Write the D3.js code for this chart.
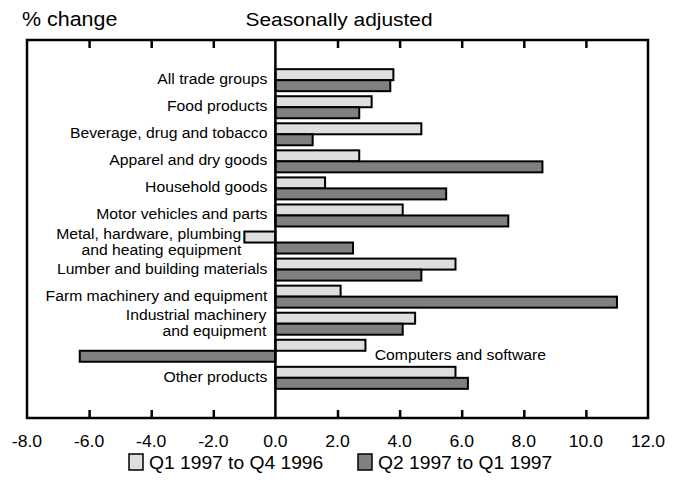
<!DOCTYPE html>
<html><head><meta charset="utf-8">
<script src="https://cdn.jsdelivr.net/npm/d3@7"></script>
<style>
body{margin:0;background:#fff;}
text{font-family:"Liberation Sans",Arial,Helvetica,sans-serif;fill:#000;}
</style></head>
<body><svg id="c" width="682" height="493"></svg>
<script>
const categories = [
  ["All trade groups"],
  ["Food products"],
  ["Beverage, drug and tobacco"],
  ["Apparel and dry goods"],
  ["Household goods"],
  ["Motor vehicles and parts"],
  ["Metal, hardware, plumbing", "and heating equipment"],
  ["Lumber and building materials"],
  ["Farm machinery and equipment"],
  ["Industrial machinery", "and equipment"],
  ["Computers and software"],
  ["Other products"]
];
const seriesNames = ["Q1 1997 to Q4 1996", "Q2 1997 to Q1 1997"];
const q1vsq4 = [3.8, 3.1, 4.7, 2.7, 1.6, 4.1, -1.0, 5.8, 2.1, 4.5, 2.9, 5.8];
const q2vsq1 = [3.7, 2.7, 1.2, 8.6, 5.5, 7.5, 2.5, 4.7, 11.0, 4.1, -6.3, 6.2];
const tickValues = [-8, -6, -4, -2, 0, 2, 4, 6, 8, 10, 12];
const colors = ["#dedede", "#808080"];

const svg = d3.select("#c");
const K = 1.1; // horizontal stretch of the reference lettering
const L = 27, R = 648, T = 40, B = 418;
const x = d3.scaleLinear().domain([-8, 12]).range([L, R]);
const keys = categories.map((d, i) => i);
const y = d3.scaleBand().domain(keys).range([T, B]).paddingInner(0.187).paddingOuter(1.078);
const sub = d3.scaleBand().domain([0, 1]).range([0, y.bandwidth()]);

function txt(g, px, py, s, size, anchor) {
  return g.append("text")
    .attr("transform", `translate(${px},${py}) scale(${K},1)`)
    .attr("font-size", size)
    .attr("text-anchor", anchor || "start")
    .text(s);
}

// bars
const series = [q1vsq4, q2vsq1];
series.forEach((vals, s) => {
  svg.append("g").selectAll("rect").data(vals).join("rect")
    .attr("x", d => x(Math.min(0, d)))
    .attr("width", d => Math.abs(x(d) - x(0)))
    .attr("y", (d, i) => y(i) + sub(s))
    .attr("height", sub.bandwidth())
    .attr("fill", colors[s])
    .attr("stroke", "#000")
    .attr("stroke-width", 2);
});

// frame
svg.append("rect").attr("x", L).attr("y", T).attr("width", R - L).attr("height", B - T)
  .attr("fill", "none").attr("stroke", "#000").attr("stroke-width", 2.5);
// zero line
svg.append("line").attr("x1", x(0)).attr("x2", x(0)).attr("y1", T).attr("y2", B)
  .attr("stroke", "#000").attr("stroke-width", 2.5);

// axes (inner ticks)
const fmt = d => d3.format(".1f")(d).replace("\u2212", "-");
const axB = svg.append("g").attr("transform", `translate(0,${B})`)
  .call(d3.axisBottom(x).tickValues(tickValues).tickSize(-8).tickFormat(""));
const axT = svg.append("g").attr("transform", `translate(0,${T})`)
  .call(d3.axisTop(x).tickValues(tickValues).tickSize(-8).tickFormat(""));
[axB, axT].forEach(a => {
  a.select(".domain").remove();
  a.selectAll("line").attr("stroke", "#000").attr("stroke-width", 2.5);
  a.selectAll(".tick").filter(d => d === 0 || d === -8 || d === 12).select("line").remove();
});
const tl = svg.append("g");
tickValues.forEach(v => txt(tl, x(v), 447, fmt(v), 16, "middle"));

// category labels
const lab = svg.append("g");
categories.forEach((lines, i) => {
  const cy = y(i) + y.bandwidth() / 2;
  if (i === 10) {
    txt(lab, x(3.2), cy + 9, lines[0], 14.3, "start");
    return;
  }
  if (lines.length === 1) {
    txt(lab, x(0) - 8, cy + 4, lines[0], 14.3, "end");
  } else {
    const ax = Math.min(q1vsq4[i], q2vsq1[i], 0);
    const rx = ax < 0 ? x(ax) - 3 : x(0) - 9;
    txt(lab, rx, cy - 4, lines[0], 14.3, "end");
    txt(lab, rx, cy + 12, lines[1], 14.3, "end");
  }
});

// titles
txt(svg, 22, 26, "% change", 19.5, "start");
txt(svg, 339, 26, "Seasonally adjusted", 19, "middle");

// legend
const leg = svg.append("g");
const legX = [129, 358];
seriesNames.forEach((n, s) => {
  leg.append("rect").attr("x", legX[s]).attr("y", 454).attr("width", 14).attr("height", 16)
    .attr("fill", colors[s]).attr("stroke", "#000").attr("stroke-width", 1.5);
  txt(leg, legX[s] + 20, 469, n, 17.5, "start");
});
</script></body></html>
